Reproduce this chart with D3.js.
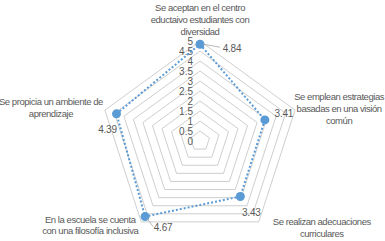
<!DOCTYPE html>
<html lang="es">
  <head>
    <meta charset="utf-8">
    <title>Radar</title>
    <script type="text/javascript" src="https://cdn.jsdelivr.net/npm/d3@7"></script>
    <style>
      body { margin: 0; background: #fff; }
      text { font-family: "Liberation Sans", Arial, sans-serif; fill: #595959; }
    </style>
  </head>
  <body>
    <script type="text/javascript">

      var w = 385;
      var h = 241;

      // data
      var categories = [
        ["Se aceptan en el centro", "eductaivo estudiantes con", "diversidad"],
        ["Se emplean estrategias", "basadas en una visión", "común"],
        ["Se realizan adecuaciones", "curriculares"],
        ["En la escuela se cuenta", "con una filosofía inclusiva"],
        ["Se propicia un ambiente de", "aprendizaje"]
      ];
      var values = [4.84, 3.41, 3.43, 4.67, 4.39];
      var tickValues = [0, 0.5, 1, 1.5, 2, 2.5, 3, 3.5, 4, 4.5, 5];

      var cx = 200;
      var cy = 141;
      var R = 100;

      var rScale = d3.scaleLinear().domain([0, 5]).range([0, R]);

      var n = categories.length;
      var angle = function(i) { return i * 2 * Math.PI / n; };
      var pt = function(i, v) {
        return [cx + rScale(v) * Math.sin(angle(i)), cy - rScale(v) * Math.cos(angle(i))];
      };

      var svg = d3.select("body")
                  .append("svg")
                  .attr("width", w)
                  .attr("height", h);

      // rings
      var ringLine = d3.line();
      svg.selectAll("path.ring")
         .data(tickValues.filter(function(t) { return t > 0; }))
         .enter()
         .append("path")
         .attr("class", "ring")
         .attr("d", function(t) {
           var pts = d3.range(n).map(function(i) { return pt(i, t); });
           return ringLine(pts) + "Z";
         })
         .attr("fill", "none")
         .attr("stroke", "#c2c2c2")
         .attr("stroke-width", 0.8);

      // tick labels
      svg.selectAll("text.tick")
         .data(tickValues)
         .enter()
         .append("text")
         .attr("class", "tick")
         .attr("x", cx - 7)
         .attr("y", function(t) { return cy - rScale(t) + 3.5; })
         .attr("text-anchor", "end")
         .attr("font-size", "10px")
         .text(function(t) { return t; });

      // category label placement (offset from outer vertex)
      var labelPos = [
        { dx: 0, dy: -34, lh: 12 },
        { dx: 44, dy: -14, lh: 12 },
        { dx: 63, dy: 0, lh: 12 },
        { dx: -51, dy: -2, lh: 11 },
        { dx: -54, dy: -9, lh: 12 }
      ];

      categories.forEach(function(lines, i) {
        var p = pt(i, 5);
        var lp = labelPos[i];
        var t = svg.append("text")
                   .attr("text-anchor", "middle")
                   .attr("font-size", "9.5px")
                   .attr("letter-spacing", "-0.45px");
        lines.forEach(function(s, k) {
          t.append("tspan")
           .attr("x", p[0] + lp.dx)
           .attr("y", p[1] + lp.dy + k * lp.lh + 3.5)
           .text(s);
        });
      });

      // series
      var pts = values.map(function(v, i) { return pt(i, v); });
      svg.append("path")
         .attr("d", d3.line()(pts) + "Z")
         .attr("fill", "none")
         .attr("stroke", "#5B9BD5")
         .attr("stroke-width", 2)
         .attr("stroke-dasharray", "2,2");

      svg.selectAll("circle")
         .data(pts)
         .enter()
         .append("circle")
         .attr("cx", function(d) { return d[0]; })
         .attr("cy", function(d) { return d[1]; })
         .attr("r", 4.5)
         .attr("fill", "#5B9BD5");

      // data labels
      var valPos = [
        { dx: 32, dy: 4, lead: [3, 0, 20, 3] },
        { dx: 19, dy: -6 },
        { dx: 11, dy: 16 },
        { dx: 18, dy: 11, lead: [2, 2, 8, 10] },
        { dx: -9, dy: 16 }
      ];
      values.forEach(function(v, i) {
        var p = pts[i];
        var vp = valPos[i];
        if (vp.lead) {
          svg.append("line")
             .attr("x1", p[0] + vp.lead[0]).attr("y1", p[1] + vp.lead[1])
             .attr("x2", p[0] + vp.lead[2]).attr("y2", p[1] + vp.lead[3])
             .attr("stroke", "#a6a6a6")
             .attr("stroke-width", 0.8);
        }
        svg.append("text")
           .attr("x", p[0] + vp.dx)
           .attr("y", p[1] + vp.dy + 3.5)
           .attr("text-anchor", "middle")
           .attr("font-size", "10px")
           .attr("letter-spacing", "-0.2px")
           .text(v.toFixed(2));
      });

    </script>
  </body>
</html>
